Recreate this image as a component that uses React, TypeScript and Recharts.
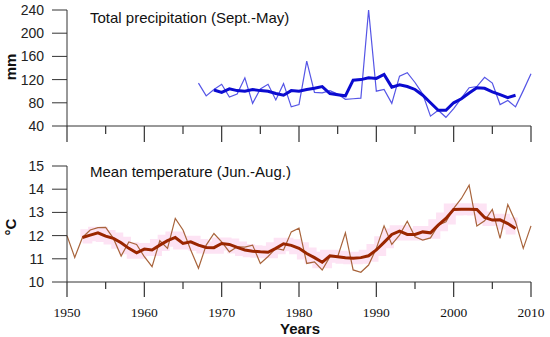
import { ComposedChart, Line, XAxis, YAxis } from "recharts";

const years = Array.from({ length: 61 }, (_, i) => 1950 + i);
const xTicks = [1950, 1955, 1960, 1965, 1970, 1975, 1980, 1985, 1990, 1995, 2000, 2005, 2010];

// Total precipitation (Sept.-May), mm
const precipStart = 1967;
const precipAnnual = [
    114, 92, 103, 112, 90, 95, 123, 79, 104, 112, 85, 113, 73, 77, 152, 98, 97, 101, 95, 86, 87, 88,
    240, 100, 103, 79, 126, 132, 115, 95, 57, 67, 55, 70, 88, 106, 108, 124, 114, 77, 84, 73, 101, 130,
];
const precipSmoothStart = 1969;
const precipSmooth = [
    102, 98, 104, 101, 100, 103, 101, 100, 96, 93, 101, 100, 103, 105, 108, 96, 94, 92, 119, 120,
    123, 122, 129, 107, 111, 108, 103, 93, 80, 67, 67, 80, 87, 97, 106, 105, 99, 94, 89, 93,
];

// Mean temperature (Jun.-Aug.), °C
const tempStart = 1950;
const tempAnnual = [
    12.0, 11.06, 11.92, 12.24, 12.34, 12.35, 11.88, 11.12, 11.73, 11.62, 11.09, 10.66, 11.78, 11.45,
    12.74, 12.24, 11.38, 10.59, 11.59, 12.09, 11.73, 11.3, 11.52, 11.5, 11.59, 10.8, 11.1, 11.45,
    11.38, 12.16, 12.32, 10.8, 10.87, 10.52, 11.09, 11.09, 12.12, 10.52, 10.42, 10.73, 11.45, 12.42,
    11.62, 12.02, 12.62, 11.95, 11.81, 11.9, 12.45, 12.6, 13.17, 13.6, 14.17, 12.41, 12.64, 13.13,
    11.88, 13.34, 12.6, 11.45, 12.42,
];
const tempSmoothStart = 1952;
const tempSmooth = [
    11.92, 12.02, 12.12, 11.98, 11.88, 11.69, 11.45, 11.26, 11.42, 11.38,
    11.59, 11.78, 11.92, 11.66, 11.73, 11.59, 11.49, 11.48, 11.66, 11.62,
    11.49, 11.38, 11.33, 11.3, 11.28, 11.45, 11.65, 11.58, 11.45, 11.23,
    11.05, 10.85, 11.13, 11.09, 11.05, 11.02, 11.05, 11.13, 11.38, 11.71,
    12.05, 12.19, 12.05, 12.05, 12.16, 12.12, 12.45, 12.74, 13.13, 13.14,
    13.14, 13.13, 12.78, 12.67, 12.68, 12.52, 12.31,
];

const pick = (arr: number[], start: number, y: number) => {
    const v = arr[y - start];
    return v === undefined ? null : v;
};

const data = years.map((y) => ({
    year: y,
    pA: pick(precipAnnual, precipStart, y),
    pS: pick(precipSmooth, precipSmoothStart, y),
    tA: pick(tempAnnual, tempStart, y),
    tS: pick(tempSmooth, tempSmoothStart, y),
}));

const axisColor = "#333";
const sans = "'Liberation Sans', Arial, sans-serif";
const serif = "'Liberation Serif', 'Times New Roman', serif";

function makeTick(majorLen: number, minorLen: number, showLabel: boolean) {
    return (props: any) => {
        const { x, y, payload } = props;
        const major = payload.value % 10 === 0;
        return (
            <g>
                <line x1={x} x2={x} y1={y} y2={y + (major ? majorLen : minorLen)} stroke={axisColor} strokeWidth={1.2} />
                {showLabel && major && (
                    <text x={x} y={y + 35} textAnchor="middle" fontFamily={serif} fontSize={13.5} fill="#111">
                        {payload.value}
                    </text>
                )}
            </g>
        );
    };
}

const yTick = { fontFamily: sans, fontSize: 14, fill: "#222" };

export default function App() {
    return (
        <div style={{ position: "absolute", left: 0, top: 0, width: 550, height: 337, background: "#fff" }}>
            <div style={{ position: "absolute", left: 0, top: 0 }}>
                <ComposedChart width={550} height={150} data={data} margin={{ top: 10, right: 19, left: 0, bottom: 0 }}>
                    <XAxis
                        dataKey="year"
                        type="number"
                        domain={[1950, 2010]}
                        ticks={xTicks}
                        tickLine={false}
                        tickSize={0}
                        tickMargin={0}
                        height={24}
                        stroke={axisColor}
                        tick={makeTick(16, 8, false)}
                    />
                    <YAxis
                        domain={[40, 240]}
                        ticks={[40, 80, 120, 160, 200, 240]}
                        width={67}
                        tickSize={15}
                        tickMargin={8}
                        stroke={axisColor}
                        tick={yTick}
                    />
                    <Line dataKey="pA" stroke="#5555e6" strokeWidth={1.2} dot={false} isAnimationActive={false} type="linear" />
                    <Line dataKey="pS" stroke="#0b0bd0" strokeWidth={3} dot={false} isAnimationActive={false} type="linear" />
                </ComposedChart>
            </div>
            <div style={{ position: "absolute", left: 0, top: 150 }}>
                <ComposedChart width={550} height={187} data={data} margin={{ top: 16, right: 19, left: 0, bottom: 0 }}>
                    <XAxis
                        dataKey="year"
                        type="number"
                        domain={[1950, 2010]}
                        ticks={xTicks}
                        tickLine={false}
                        tickSize={0}
                        tickMargin={0}
                        height={55}
                        stroke={axisColor}
                        tick={makeTick(15, 7, true)}
                    />
                    <YAxis
                        domain={[10, 15]}
                        ticks={[10, 11, 12, 13, 14, 15]}
                        width={67}
                        tickSize={15}
                        tickMargin={8}
                        stroke={axisColor}
                        tick={yTick}
                    />
                    <Line dataKey="tS" stroke="#fde3f4" strokeWidth={12} dot={false} isAnimationActive={false} type="step" />
                    <Line dataKey="tA" stroke="#a8643c" strokeWidth={1.2} dot={false} isAnimationActive={false} type="linear" />
                    <Line dataKey="tS" stroke="#9a2600" strokeWidth={3} dot={false} isAnimationActive={false} type="linear" />
                </ComposedChart>
            </div>
            <svg width={550} height={337} style={{ position: "absolute", left: 0, top: 0, pointerEvents: "none" }}>
                <text x={90} y={23} fontFamily={sans} fontSize={15} fill="#111">
                    Total precipitation (Sept.-May)
                </text>
                <text x={90} y={177} fontFamily={sans} fontSize={15} fill="#111">
                    Mean temperature (Jun.-Aug.)
                </text>
                <text x={16} y={67} transform="rotate(-90 16 67)" textAnchor="middle" fontFamily={sans} fontSize={15} fontWeight="bold" fill="#111">
                    mm
                </text>
                <text x={16} y={227} transform="rotate(-90 16 227)" textAnchor="middle" fontFamily={sans} fontSize={15} fontWeight="bold" fill="#111">
                    °C
                </text>
                <text x={300} y={334} textAnchor="middle" fontFamily={sans} fontSize={15} fontWeight="bold" fill="#111">
                    Years
                </text>
            </svg>
        </div>
    );
}
